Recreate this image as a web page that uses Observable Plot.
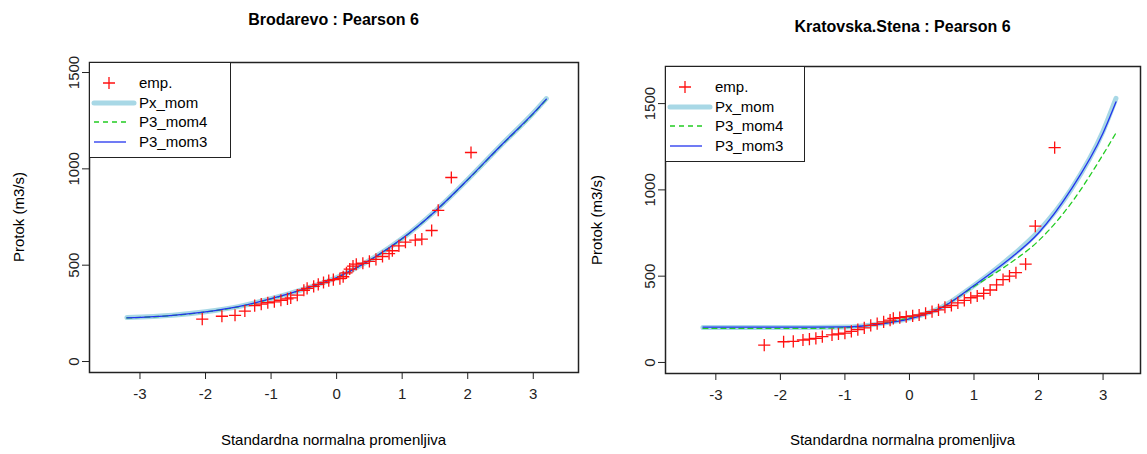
<!DOCTYPE html>
<html><head><meta charset="utf-8">
<script src="https://cdn.jsdelivr.net/npm/d3@7"></script>
<script src="https://cdn.jsdelivr.net/npm/@observablehq/plot@0.6"></script>
<style>
body{margin:0;background:#fff;font-family:"Liberation Sans",Arial,sans-serif;}
#wrap{position:relative;width:1147px;height:454px;}
.panel{position:absolute;top:0;}
.title{position:absolute;font-weight:bold;font-size:16px;transform:translateX(-50%);white-space:nowrap;}
.leg{position:absolute;border:1.5px solid #222;background:#fff;font-size:15px;}
.leg div{position:relative;height:19.5px;line-height:19.5px;padding-left:49px;}
.leg svg{position:absolute;left:1px;top:0;}
.xl,.yl{position:absolute;font-size:15px;white-space:nowrap;}
</style></head><body><div id="wrap"></div>
<script>
// Brodarevo
const bCurveX = [-3.2,-2.5,-2,-1.5,-1,-0.5,0,0.5,1,1.5,2,2.5,3,3.2];
const bPx   = [228,240,258,285,326,376,436,525,638,780,945,1120,1290,1365];
const bMom4 = [226,239,257,284,325,375,435,524,637,778,943,1117,1286,1360];
const bMom3 = [227,240,258,285,326,376,436,525,638,779,944,1119,1288,1362];
const bEmpX = [-2.05,-1.75,-1.55,-1.4,-1.25,-1.15,-1.05,-0.95,-0.85,-0.75,-0.7,-0.6,-0.5,-0.45,-0.35,-0.28,-0.2,-0.12,-0.05,0.05,0.1,0.15,0.2,0.25,0.3,0.4,0.5,0.6,0.7,0.8,0.85,0.95,1.05,1.2,1.3,1.45,1.55,1.75,2.05];
const bEmpY = [220,235,240,262,290,298,305,310,318,325,330,345,370,380,390,400,410,420,425,430,440,460,480,495,505,510,520,530,545,560,575,600,620,630,635,680,785,955,1085];
// Kratovska.Stena
const kCurveX = [-3.2,-2.5,-2,-1.5,-1,-0.5,0,0.5,1,1.5,2,2.5,3,3.2];
const kPx   = [203,203,203,203,205,222,255,320,446,590,760,1000,1340,1530];
const kMom4 = [198,198,198,198,202,222,258,320,440,560,705,920,1205,1330];
const kMom3 = [205,205,205,205,206,220,252,318,446,585,750,1000,1330,1510];
const kEmpX = [-2.25,-1.95,-1.8,-1.65,-1.55,-1.45,-1.35,-1.2,-1.1,-1.0,-0.9,-0.8,-0.7,-0.6,-0.5,-0.4,-0.3,-0.25,-0.15,-0.05,0.05,0.15,0.25,0.35,0.45,0.55,0.65,0.75,0.85,0.95,1.05,1.15,1.25,1.35,1.45,1.55,1.65,1.8,1.95,2.25];
const kEmpY = [100,120,122,130,135,140,150,160,165,170,180,190,200,215,225,235,245,255,260,265,270,275,285,295,305,320,330,345,360,375,385,400,420,450,480,500,520,570,790,1245];
const xTicks = [-3,-2,-1,0,1,2,3];
const yTicks = [0,500,1000,1500];

const wrap = document.getElementById("wrap");
function panel(o){
  const rows = a => a.x.map((x,i)=>({x,y:a.y[i]}));
  const svg = Plot.plot({
    width:o.w, height:454, marginLeft:o.ml, marginRight:o.mr, marginTop:o.mt, marginBottom:o.mb,
    x:{domain:o.xd}, y:{domain:o.yd},
    style:{fontFamily:"Liberation Sans, Arial, sans-serif", fontSize:"15px", color:"#222"},
    marks:[
      Plot.frame({stroke:"#222", strokeWidth:1.5}),
      Plot.axisX({ticks:xTicks, tickSize:7, tickPadding:9, label:null, fontSize:15, tickFormat:d=>d<0?"-"+(-d):String(d)}),
      Plot.axisY({ticks:yTicks, tickSize:7, tickPadding:4, label:null, tickRotate:-90, fontSize:15, tickFormat:d=>String(d)}),
      Plot.line(rows({x:o.cx,y:o.px}),{x:"x",y:"y",stroke:"#a8d8e6",strokeWidth:5,curve:"monotone-x"}),
      Plot.line(rows({x:o.cx,y:o.m4}),{x:"x",y:"y",stroke:"#22cc22",strokeWidth:1.3,strokeDasharray:"5,4",curve:"monotone-x"}),
      Plot.line(rows({x:o.cx,y:o.m3}),{x:"x",y:"y",stroke:"#2233ee",strokeWidth:1.3,curve:"monotone-x"}),
      Plot.dot(rows({x:o.ex,y:o.ey}),{x:"x",y:"y",symbol:"plus",stroke:"#ff1010",r:4,strokeWidth:1.3})
    ]
  });
  svg.classList.add("panel"); svg.style.left=o.left+"px";
  wrap.appendChild(svg);
  const cx = o.left+o.ml+(o.w-o.ml-o.mr)/2;
  const t=document.createElement("div"); t.className="title"; t.textContent=o.title;
  t.style.left=cx+"px"; t.style.top=o.ty+"px"; wrap.appendChild(t);
  const xl=document.createElement("div"); xl.className="xl"; xl.textContent="Standardna normalna promenljiva";
  xl.style.left=cx+"px"; xl.style.top="431px"; xl.style.transform="translateX(-50%)"; wrap.appendChild(xl);
  const yl=document.createElement("div"); yl.className="yl"; yl.textContent="Protok (m3/s)";
  yl.style.left=(o.left+o.ylx)+"px"; yl.style.top=(o.mt+(454-o.mt-o.mb)/2)+"px";
  yl.style.transform="translate(-50%,-50%) rotate(-90deg)"; wrap.appendChild(yl);
  const lg=document.createElement("div"); lg.className="leg";
  lg.style.left=(o.left+o.ml)+"px"; lg.style.top=o.mt+"px"; lg.style.width=o.lw+"px"; lg.style.padding="10px 0 6px 0";
  lg.innerHTML=
   `<div><svg width="48" height="20"><path d="M18,4v12M12,10h12" stroke="#ff1010" stroke-width="1.3"/></svg>emp.</div>`+
   `<div><svg width="48" height="20"><path d="M3,10h40" stroke="#a8d8e6" stroke-width="5" stroke-linecap="round"/></svg>Px_mom</div>`+
   `<div><svg width="48" height="20"><path d="M3,10h32" stroke="#22cc22" stroke-width="1.3" stroke-dasharray="5,4"/></svg>P3_mom4</div>`+
   `<div><svg width="48" height="20"><path d="M3,10h32" stroke="#2233ee" stroke-width="1.3"/></svg>P3_mom3</div>`;
  wrap.appendChild(lg);
}
panel({left:0,w:580,ml:89,mr:2,mt:62,mb:82,xd:[-3.77,3.69],yd:[-57,1552],cx:bCurveX,px:bPx,m4:bMom4,m3:bMom3,ex:bEmpX,ey:bEmpY,title:"Brodarevo : Pearson 6",ty:11,ylx:18,lw:140});
panel({left:580,w:567,ml:85,mr:7,mt:66,mb:81,xd:[-3.78,3.58],yd:[-64,1715],cx:kCurveX,px:kPx,m4:kMom4,m3:kMom3,ex:kEmpX,ey:kEmpY,title:"Kratovska.Stena : Pearson 6",ty:18,ylx:16,lw:138});
</script></body></html>
